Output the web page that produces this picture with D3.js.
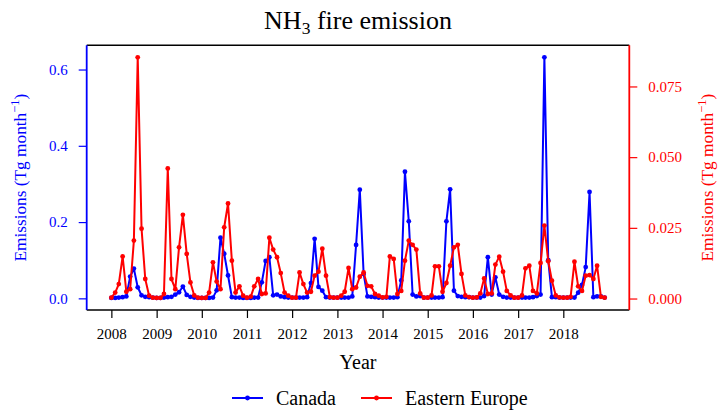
<!DOCTYPE html>
<html><head><meta charset="utf-8">
<script src="https://cdn.jsdelivr.net/npm/d3@7"></script>
<style>body{margin:0;background:#fff}svg{display:block}text{font-family:"Liberation Serif","Times New Roman",serif}</style>
</head><body><svg id="c" width="725" height="417"></svg>
<script>
const startMonth = "2008-01";
const tickYears = [2008,2009,2010,2011,2012,2013,2014,2015,2016,2017,2018];
const canada = [
0.001,0.001,0.002,0.003,0.005,0.057,0.078,0.029,0.008,0.004,0.003,0.002,
0.001,0.001,0.002,0.003,0.004,0.010,0.016,0.031,0.009,0.004,0.002,0.001,
0.001,0.001,0.001,0.002,0.021,0.159,0.117,0.060,0.003,0.002,0.002,0.001,
0.001,0.001,0.002,0.002,0.042,0.098,0.108,0.008,0.010,0.005,0.003,0.002,
0.002,0.002,0.002,0.002,0.003,0.040,0.156,0.030,0.020,0.003,0.002,0.002,
0.002,0.002,0.002,0.002,0.005,0.140,0.285,0.064,0.005,0.004,0.003,0.002,
0.002,0.002,0.002,0.002,0.003,0.047,0.332,0.202,0.010,0.005,0.006,0.002,
0.002,0.002,0.002,0.002,0.003,0.202,0.286,0.020,0.006,0.004,0.003,0.003,
0.002,0.002,0.002,0.006,0.108,0.010,0.055,0.010,0.004,0.002,0.002,0.002,
0.002,0.002,0.002,0.002,0.003,0.006,0.010,0.632,0.100,0.003,0.003,0.002,
0.002,0.002,0.002,0.002,0.015,0.035,0.082,0.279,0.003,0.005,0.005,0.002];
const easternEurope = [
0.0003,0.0021,0.0051,0.0149,0.0024,0.0033,0.0205,0.0853,0.0247,0.0069,0.0010,0.0003,
0.0002,0.0002,0.0016,0.0460,0.0069,0.0033,0.0181,0.0296,0.0158,0.0057,0.0011,0.0003,
0.0002,0.0002,0.0021,0.0128,0.0060,0.0033,0.0252,0.0336,0.0134,0.0021,0.0043,0.0010,
0.0003,0.0007,0.0043,0.0069,0.0016,0.0018,0.0215,0.0173,0.0146,0.0090,0.0021,0.0010,
0.0003,0.0003,0.0092,0.0051,0.0021,0.0024,0.0081,0.0095,0.0176,0.0081,0.0005,0.0003,
0.0003,0.0010,0.0024,0.0108,0.0033,0.0039,0.0077,0.0092,0.0045,0.0043,0.0016,0.0010,
0.0004,0.0006,0.0149,0.0140,0.0016,0.0027,0.0134,0.0205,0.0190,0.0173,0.0018,0.0003,
0.0003,0.0011,0.0114,0.0114,0.0024,0.0055,0.0116,0.0181,0.0190,0.0087,0.0011,0.0005,
0.0003,0.0004,0.0018,0.0071,0.0016,0.0018,0.0120,0.0148,0.0095,0.0027,0.0011,0.0003,
0.0003,0.0011,0.0107,0.0116,0.0027,0.0018,0.0126,0.0258,0.0132,0.0063,0.0011,0.0004,
0.0003,0.0003,0.0006,0.0130,0.0043,0.0027,0.0081,0.0083,0.0069,0.0116,0.0006,0.0003];
const leftTicks = [0.0,0.2,0.4,0.6];
const rightTicks = [0.000,0.025,0.050,0.075];
const seriesNames = ["Canada","Eastern Europe"];
const colors = ["#0000ff","#ff0000"];

const svg = d3.select("#c");
const L = 86.7, R = 629.3, T = 45.3, B = 310;
const parse = d3.timeParse("%Y-%m");
const t0 = parse(startMonth);
const dates = canada.map((_, i) => d3.timeMonth.offset(t0, i));
const dExt = d3.extent(dates);
const pad = (dExt[1] - dExt[0]) * 0.05;
const x = d3.scaleTime().domain([new Date(+dExt[0] - pad), new Date(+dExt[1] + pad)]).range([L, R]);
function padDom(arr){ const e = d3.extent(arr); const p = (e[1]-e[0])*0.05; return [e[0]-p, e[1]+p]; }
const yL = d3.scaleLinear().domain(padDom(canada)).range([B, T]);
const yR = d3.scaleLinear().domain(padDom(easternEurope)).range([B, T]);

// frame
svg.append("line").attr("x1",L).attr("x2",R).attr("y1",T).attr("y2",T).attr("stroke","#000").attr("stroke-width",1.4);
svg.append("line").attr("x1",L).attr("x2",R).attr("y1",B).attr("y2",B).attr("stroke","#000").attr("stroke-width",1.4);

const tickFont = 15;
// x axis
const xa = svg.append("g").attr("transform",`translate(0,${B})`)
  .call(d3.axisBottom(x).tickValues(tickYears.map(y=>new Date(y,0,1))).tickFormat(d3.timeFormat("%Y")).tickSize(8).tickPadding(10));
xa.select(".domain").remove();
xa.selectAll("line").attr("stroke","#000").attr("stroke-width",1.2);
xa.selectAll("text").attr("font-size",tickFont).attr("fill","#000").attr("font-family","Liberation Serif");

// left axis
const la = svg.append("g").attr("transform",`translate(${L},0)`)
  .call(d3.axisLeft(yL).tickValues(leftTicks).tickFormat(d3.format(".1f")).tickSize(8).tickPadding(11));
la.select(".domain").attr("stroke",colors[0]).attr("stroke-width",1.8).attr("d",`M0,${T}V${B}`);
la.selectAll("line").attr("stroke",colors[0]).attr("stroke-width",1.2);
la.selectAll("text").attr("font-size",tickFont).attr("fill",colors[0]).attr("font-family","Liberation Serif");

// right axis
const ra = svg.append("g").attr("transform",`translate(${R},0)`)
  .call(d3.axisRight(yR).tickValues(rightTicks).tickFormat(d3.format(".3f")).tickSize(8).tickPadding(11));
ra.select(".domain").attr("stroke",colors[1]).attr("stroke-width",1.8).attr("d",`M0,${T}V${B}`);
ra.selectAll("line").attr("stroke",colors[1]).attr("stroke-width",1.2);
ra.selectAll("text").attr("font-size",tickFont).attr("fill",colors[1]).attr("font-family","Liberation Serif");

// series
function drawSeries(vals, y, col){
  const data = vals.map((v,i)=>({d:dates[i], v}));
  svg.append("path").datum(data)
    .attr("fill","none").attr("stroke",col).attr("stroke-width",2).attr("stroke-linejoin","round")
    .attr("d", d3.line().x(p=>x(p.d)).y(p=>y(p.v)));
  svg.append("g").selectAll("circle").data(data).join("circle")
    .attr("cx",p=>x(p.d)).attr("cy",p=>y(p.v)).attr("r",2.4).attr("fill",col);
}
drawSeries(canada, yL, colors[0]);
drawSeries(easternEurope, yR, colors[1]);

// title
const title = svg.append("text").attr("x",(L+R)/2).attr("y",29).attr("text-anchor","middle").attr("font-size",26);
title.append("tspan").text("NH");
title.append("tspan").attr("font-size",17.5).attr("dy",5).text("3");
title.append("tspan").attr("dy",-5).text(" fire emission");

// axis labels
const labFont = 17.3;
function unitLabel(g){
  g.append("tspan").text("Emissions (Tg month");
  g.append("tspan").attr("font-size",12.5).attr("dy",-7.5).text("−1");
  g.append("tspan").attr("dy",7.5).text(")");
}
const ll = svg.append("text").attr("transform",`translate(26,${(T+B)/2}) rotate(-90)`).attr("text-anchor","middle").attr("font-size",labFont).attr("fill",colors[0]);
unitLabel(ll);
const rl = svg.append("text").attr("transform",`translate(713,${(T+B)/2}) rotate(-90)`).attr("text-anchor","middle").attr("font-size",labFont).attr("fill",colors[1]);
unitLabel(rl);
svg.append("text").attr("x",(L+R)/2).attr("y",369).attr("text-anchor","middle").attr("font-size",20).text("Year");

// legend
const legX = [232, 361];
seriesNames.forEach((n,i)=>{
  const g = svg.append("g").attr("transform",`translate(${legX[i]},398)`);
  g.append("line").attr("x1",0).attr("x2",31).attr("stroke",colors[i]).attr("stroke-width",2);
  g.append("circle").attr("cx",15.5).attr("r",2.4).attr("fill",colors[i]);
  g.append("text").attr("x",44).attr("y",6.5).attr("font-size",20).text(n);
});
</script></body></html>
